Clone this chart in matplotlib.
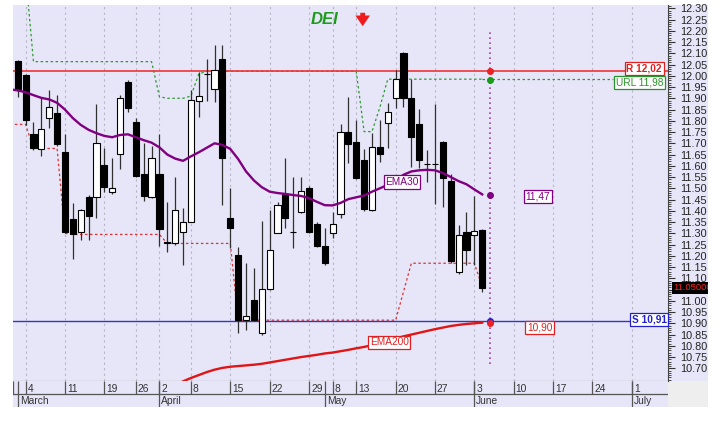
import numpy as np
import matplotlib
matplotlib.use('Agg')
import matplotlib.pyplot as plt
from matplotlib.patches import Rectangle
from matplotlib.ticker import MultipleLocator, FixedLocator
from matplotlib.transforms import offset_copy, Bbox, TransformedBbox, blended_transform_factory

plt.rcParams['font.family'] = ['Liberation Sans', 'DejaVu Sans']

# ---------------- data ----------------
days = np.arange(-1, 59)  # trading-day index (0 = 4 March)
opens = [12.065, 12.003, 11.741, 11.674, 11.814, 11.833, 11.663, 11.363, 11.304, 11.462,
         11.462, 11.603, 11.485, 11.652, 11.974, 11.793, 11.562, 11.462, 11.562, 11.26,
         11.255, 11.304, 11.351, 11.889, 12.006, 11.941, 12.074, 11.366, 11.203, 10.914,
         11.003, 10.855, 11.052, 11.302, 11.473, 11.307, 11.393, 11.503, 11.341, 11.245,
         11.302, 11.384, 11.751, 11.704, 11.625, 11.403, 11.685, 11.791, 11.902, 12.10,
         11.902, 11.784, 11.606, 11.606, 11.704, 11.534, 11.126, 11.304, 11.292, 11.314]
highs = [12.07, 12.01, 11.793, 11.90, 11.937, 11.914, 11.74, 11.433, 11.41, 11.47,
         11.873, 11.677, 11.633, 11.914, 11.98, 11.814, 11.70, 11.689, 11.74, 11.44,
         11.551, 11.414, 11.937, 12.018, 12.073, 12.137, 12.137, 11.502, 11.24, 11.166,
         11.144, 11.354, 11.403, 11.44, 11.636, 11.551, 11.551, 11.51, 11.351, 11.325,
         11.396, 11.788, 11.907, 11.803, 11.673, 11.748, 11.803, 11.877, 12.025, 12.107,
         11.988, 11.852, 11.67, 11.873, 11.71, 11.562, 11.337, 11.393, 11.467, 11.32]
lows = [11.907, 11.781, 11.67, 11.645, 11.766, 11.69, 11.30, 11.185, 11.27, 11.27,
        11.366, 11.485, 11.473, 11.585, 11.837, 11.55, 11.445, 11.455, 11.245, 11.218,
        11.25, 11.159, 11.35, 11.818, 11.888, 11.885, 11.425, 11.233, 10.858, 10.87,
        10.91, 10.85, 11.05, 11.30, 11.322, 11.236, 11.39, 11.30, 11.24, 11.16,
        11.277, 11.369, 11.611, 11.54, 11.40, 11.40, 11.615, 11.677, 11.858, 11.862,
        11.596, 11.591, 11.53, 11.43, 11.418, 11.17, 11.12, 11.159, 11.159, 11.037]
closes = [11.937, 11.803, 11.677, 11.762, 11.862, 11.695, 11.307, 11.295, 11.403, 11.378,
          11.702, 11.507, 11.503, 11.902, 11.855, 11.556, 11.467, 11.633, 11.319, 11.258,
          11.403, 11.351, 11.892, 11.911, 12.008, 12.025, 11.636, 11.325, 10.914, 10.932,
          10.914, 11.052, 11.225, 11.425, 11.369, 11.307, 11.488, 11.307, 11.245, 11.166,
          11.341, 11.751, 11.695, 11.544, 11.406, 11.685, 11.652, 11.84, 11.985, 11.902,
          11.729, 11.625, 11.606, 11.606, 11.544, 11.177, 11.292, 11.228, 11.311, 11.055]

line_days = np.arange(-2, 59)
ema30 = [11.94, 11.935, 11.927, 11.914, 11.902, 11.895, 11.88, 11.85, 11.812, 11.782,
         11.76, 11.745, 11.733, 11.727, 11.737, 11.74, 11.727, 11.714, 11.703, 11.682,
         11.65, 11.632, 11.622, 11.642, 11.66, 11.68, 11.70, 11.693, 11.675, 11.63,
         11.575, 11.535, 11.505, 11.485, 11.479, 11.475, 11.47, 11.466, 11.456, 11.44,
         11.425, 11.424, 11.435, 11.452, 11.46, 11.468, 11.485, 11.50, 11.515, 11.535,
         11.56, 11.575, 11.58, 11.582, 11.58, 11.568, 11.55, 11.532, 11.518, 11.495, 11.473]
lower_stop = [11.784, 11.784, 11.784, 11.677, 11.677, 11.677, 11.677, 11.30, 11.295, 11.295,
              11.295, 11.295, 11.295, 11.295, 11.295, 11.295, 11.295, 11.295, 11.295, 11.295,
              11.255, 11.255, 11.255, 11.255, 11.255, 11.255, 11.255, 11.255, 11.255, 10.914,
              10.914, 10.914, 10.914, 10.914, 10.914, 10.914, 10.914, 10.914, 10.914, 10.914,
              10.914, 10.914, 10.914, 10.914, 10.914, 10.914, 10.914, 10.914, 10.914, 10.914,
              11.04, 11.167, 11.167, 11.167, 11.167, 11.167, 11.167, 11.167, 11.167, 11.167, 11.063]
upper_url = [12.45, 12.45, 12.45, 12.063, 12.063, 12.063, 12.063, 12.063, 12.063, 12.063,
             12.063, 12.063, 12.063, 12.063, 12.063, 12.063, 12.063, 12.063, 12.063, 11.907,
             11.90, 11.90, 11.90, 11.91, 12.008, 12.02, 12.02, 12.02, 12.02, 12.02,
             12.02, 12.02, 12.02, 12.02, 12.02, 12.02, 12.02, 12.02, 12.02, 12.02,
             12.02, 12.02, 12.02, 12.02, 12.02, 11.752, 11.752, 11.86, 11.985, 11.985,
             11.985, 11.985, 11.985, 11.985, 11.985, 11.985, 11.985, 11.985, 11.985, 11.985, 11.985]
ema200_days = np.arange(18, 59)
ema200 = [10.61, 10.625, 10.642, 10.657, 10.67, 10.683, 10.694, 10.702, 10.707, 10.71,
          10.713, 10.716, 10.72, 10.726, 10.732, 10.738, 10.744, 10.75, 10.755, 10.76,
          10.766, 10.77, 10.776, 10.782, 10.789, 10.795, 10.803, 10.812, 10.822, 10.832,
          10.842, 10.85, 10.858, 10.866, 10.874, 10.881, 10.888, 10.893, 10.897, 10.90, 10.903]

resistance = 12.02
support = 10.91
url_value = 11.98
marker_day = 59
ema30_last = 11.47
ema200_last = 10.90
last_price = 11.05

week_days = [0, 5, 10, 14, 17, 21, 26, 31, 36, 39, 42, 47, 52, 57, 62, 67, 72, 77]
week_labels = ['4', '11', '19', '26', '2', '8', '15', '22', '29', '8', '13', '20', '27',
               '3', '10', '17', '24', '1']
month_days = [-1, 17, 38, 57, 77]
month_labels = ['March', 'April', 'May', 'June', 'July']
ytick_vals = np.round(np.arange(10.70, 12.3001, 0.05), 2)

# ---------------- figure ----------------
W, H = 725, 423
fig = plt.figure(figsize=(7.25, 4.23), dpi=100)
fig.patch.set_facecolor('white')

def fx(px):
    return px / W

def fy(py):
    return 1 - py / H

BG = '#e6e6f8'
fig.patches.append(Rectangle((fx(668), fy(381)), fx(708) - fx(668), fy(5) - fy(381),
                             transform=fig.transFigure, facecolor=BG, edgecolor='none', zorder=-5))
fig.patches.append(Rectangle((fx(668), fy(407)), fx(708) - fx(668), fy(381) - fy(407),
                             transform=fig.transFigure, facecolor='#eeeeee', edgecolor='none', zorder=-5))

XL = (-1.6, 81.6)
ax = fig.add_axes([fx(13), fy(381), fx(668) - fx(13), fy(5) - fy(381)])
ax.set_facecolor(BG)
ax.set_xlim(*XL)
ax.set_ylim(10.6436, 12.3147)

# grid
ax.vlines(week_days, 10.6436, 12.3147, colors='#b4b4c4', linestyles=(0, (2, 3)), lw=0.8, zorder=0.5)

# support/resistance
ax.axhline(resistance, color='#ee3535', lw=1.2, zorder=1.6)
ax.axhline(support, color='#3434c8', lw=1.0, zorder=1.6)

# stops
ax.plot(line_days, upper_url, color='#2f9a2f', lw=0.9, ls=(0, (2, 2)), zorder=1.5)
url_end = XL[0] + (612.7 - 13) / 655 * (XL[1] - XL[0])
ax.plot([line_days[-1], url_end], [upper_url[-1], upper_url[-1]], color='#2f9a2f', lw=0.9, ls=(0, (2, 2)), zorder=1.5)
ax.plot(line_days, lower_stop, color='#e03030', lw=0.9, ls=(0, (2, 2)), zorder=1.5)

# candles
o = np.array(opens); h = np.array(highs); l = np.array(lows); c = np.array(closes)
up = c >= o
ax.vlines(days, l, h, color='#303030', lw=0.9, zorder=2)
ax.bar(days, np.maximum(np.abs(c - o), 0.0005), 0.78, bottom=np.minimum(o, c),
       color=np.where(up, 'white', 'black'), edgecolor='black', lw=0.8, zorder=3)

# EMAs
ax.plot(line_days, ema30, color='#800080', lw=1.7, zorder=4)
ax.plot(ema200_days, ema200, color='#e01515', lw=1.7, zorder=4)

# marker line and dots
ax.vlines(marker_day, 10.72, 12.20, colors='#a040a0', linestyles=(0, (1, 2)), lw=1.2, zorder=4)
ax.plot([marker_day], [resistance], 'o', color='#ee2020', ms=4, zorder=5)
ax.plot([marker_day], [url_value], 'o', color='#1c9a1c', ms=4, zorder=5)
ax.plot([marker_day], [ema30_last], 'o', color='#800080', ms=4, zorder=5)
ax.plot([marker_day], [support], 'o', color='#2020e0', ms=4, zorder=5)
ax.plot([marker_day], [ema200_last], 'o', color='#ee2020', ms=4, zorder=5)

# labels
bt = blended_transform_factory(ax.transAxes, ax.transData)
def axx(px):
    return (px - 13) / 655

def lab(px, y, s, col, ha='center', bold=False):
    ax.text(axx(px), y, s, transform=bt, ha=ha, va='center', fontsize=7.3, color=col,
            fontweight='bold' if bold else 'normal', zorder=6,
            bbox=dict(boxstyle='square,pad=0.15', fc='white', ec=col, lw=0.9))

lab(662, 12.033, 'R ' + f'{resistance:.2f}'.replace('.', ','), '#e02020', ha='right', bold=True)
lab(663, 11.969, 'URL ' + f'{url_value:.2f}'.replace('.', ','), '#2a942a', ha='right')
lab(666.5, 10.918, 'S ' + f'{support:.2f}'.replace('.', ','), '#2020d0', ha='right', bold=True)
lab(538, 11.463, f'{ema30_last:.2f}'.replace('.', ','), '#800080')
lab(539.5, 10.882, f'{ema200_last:.2f}'.replace('.', ','), '#e02020')
lab(402, 11.528, 'EMA30', '#800080')
lab(389.3, 10.816, 'EMA200', '#e02020')

# axes styling
ax.set_xticks([])
ax.yaxis.tick_right()
ax.yaxis.set_major_locator(FixedLocator(ytick_vals))
ax.set_yticklabels([f'{v:.2f}' for v in ytick_vals])
ax.yaxis.set_minor_locator(MultipleLocator(0.01))
ax.tick_params(axis='y', which='major', length=5, width=0.8, color='#333333', labelsize=7.8,
               pad=3.5, labelcolor='#222222')
ax.tick_params(axis='y', which='minor', length=2.5, width=0.6, color='#333333')
for s in ['top', 'left']:
    ax.spines[s].set_visible(False)
ax.spines['right'].set_color('#444444')
ax.spines['bottom'].set_color('#444444')

# last price tag
fig.patches.append(Rectangle((fx(672), fy(294.3)), fx(708.3) - fx(672), fy(281.7) - fy(294.3),
                             transform=fig.transFigure, facecolor='black', edgecolor='none', zorder=5))
t = fig.text(fx(673), fy(288), f'{last_price:.5f}', fontsize=6.8, color='#ff2020', ha='left',
             va='center', zorder=6)
t.set_clip_box(TransformedBbox(Bbox.from_extents(fx(672), fy(294.3), fx(708.3), fy(281.7)),
                               fig.transFigure))
t.set_clip_on(True)

# title and arrow
fig.text(fx(311), fy(19.3), 'DEI', fontsize=12, fontweight='bold', fontstyle='italic',
         color='#1c9c1c', ha='left', va='center')
ax.annotate('', xy=(fx(362.7), fy(29)), xytext=(fx(362.7), fy(10)), xycoords='figure fraction',
            textcoords='figure fraction',
            arrowprops=dict(arrowstyle='simple,head_length=0.55,head_width=0.75,tail_width=0.25',
                            color='#ee1c1c', lw=0, mutation_scale=14))

# date band
axd = fig.add_axes([fx(13), fy(407), fx(668) - fx(13), fy(381) - fy(407)])
axd.set_facecolor(BG)
axd.set_xlim(*XL)
axd.set_ylim(0, 1)
axd.set_xticks([]); axd.set_yticks([])
for s in axd.spines.values():
    s.set_visible(False)
axd.axhline(0.5, color='#555555', lw=0.9)
axd.vlines(week_days, 0.5, 1, colors='#555555', lw=0.9)
axd.vlines(month_days, 0, 1, colors='#555555', lw=0.9)
axd.vlines([XL[0] + 0.05], 0.5, 1, colors='#555555', lw=0.9)
tr = offset_copy(axd.transData, fig=fig, x=2, y=0, units='dots')
for d, s in zip(week_days, week_labels):
    axd.text(d, 0.70, s, transform=tr, fontsize=7.4, color='#333333', ha='left', va='center')
for d, s in zip(month_days, month_labels):
    axd.text(d, 0.24, s, transform=tr, fontsize=7.4, color='#333333', ha='left', va='center')

fig.savefig('out.png', dpi=100, facecolor='white')
